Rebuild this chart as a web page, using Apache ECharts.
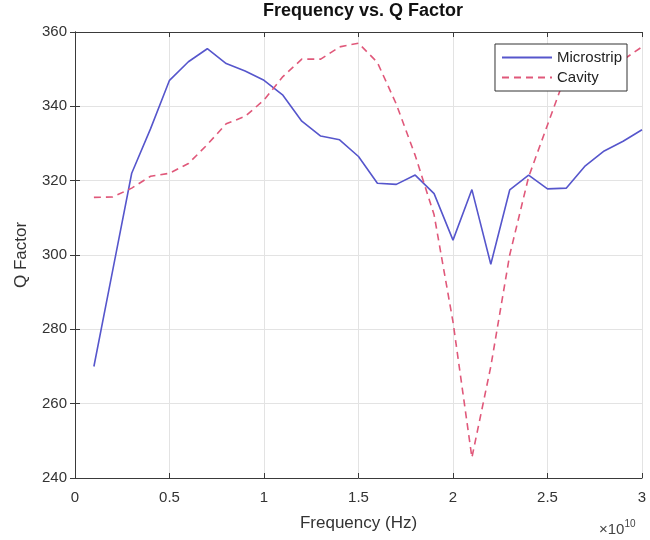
<!DOCTYPE html>
<html>
<head>
<meta charset="utf-8">
<script src="https://cdn.jsdelivr.net/npm/echarts@6/dist/echarts.min.js"></script>
<style>
  html, body { margin: 0; padding: 0; background: #fff; }
  #chart { width: 650px; height: 540px; }
</style>
</head>
<body>
<div id="chart"></div>
<script>
// frequency points (Hz)
const freqs = [1e9, 2e9, 3e9, 4e9, 5e9, 6e9, 7e9, 8e9, 9e9, 10e9,
  11e9, 12e9, 13e9, 14e9, 15e9, 16e9, 17e9, 18e9, 19e9, 20e9,
  21e9, 22e9, 23e9, 24e9, 25e9, 26e9, 27e9, 28e9, 29e9, 30e9];
const microstrip = [270, 296, 322, 334, 347, 352, 355.5, 351.5, 349.5, 347,
  343, 336, 332, 331, 326.5, 319.3, 319, 321.5, 316.5, 304,
  317.6, 297.5, 317.5, 321.5, 317.8, 318, 324, 328, 330.6, 333.7];
const cavity = [315.5, 315.6, 318, 321.2, 322, 324.6, 329.7, 335.3, 337.3, 341.7,
  348, 352.7, 352.7, 356, 357, 351.8, 340.6, 326.8, 310.8, 282,
  245.5, 270, 300, 321, 335, 349, 350, 351, 352.5, 356];
const seriesNames = ['Microstrip', 'Cavity'];

const font = '"Liberation Sans", Arial, Helvetica, sans-serif';
const chart = echarts.init(document.getElementById('chart'));

const pairs = (ys) => freqs.map((f, i) => [f, ys[i]]);

const boxAxisLine = { show: true, lineStyle: { color: '#3a3a3a', width: 1 } };
const innerTick = { show: true, inside: true, length: 5, lineStyle: { color: '#3a3a3a' } };

let option = {
  animation: false,
  backgroundColor: '#fff',
  title: [
    {
      text: 'Frequency vs. Q Factor',
      left: 358, top: -3, textAlign: 'center',
      textStyle: { fontFamily: font, fontSize: 18, fontWeight: 'bold', color: '#111' }
    },
    {
      text: '{a|×10}{b|10}',
      left: 594, top: 514,
      textStyle: {
        rich: {
          a: { fontFamily: font, fontSize: 15, fontWeight: 'normal', color: '#444', verticalAlign: 'bottom' },
          b: { fontFamily: font, fontSize: 10, fontWeight: 'normal', color: '#444', verticalAlign: 'top', padding: [0, 0, 8, 0] }
        }
      }
    }
  ],
  legend: {
    data: seriesNames,
    orient: 'vertical',
    right: 23, top: 44,
    backgroundColor: '#fff',
    borderColor: '#333', borderWidth: 1, borderRadius: 0,
    padding: [6, 5, 6, 6],
    itemGap: 5,
    itemWidth: 50, itemHeight: 17,
    itemStyle: { opacity: 0 },
    textStyle: { fontFamily: font, fontSize: 15, color: '#222' }
  },
  grid: { left: 75, right: 8, top: 32, bottom: 62 },
  xAxis: [
    {
      type: 'value', min: 0, max: 3e10, interval: 5e9,
      name: 'Frequency (Hz)', nameLocation: 'middle', nameGap: 37,
      nameTextStyle: { fontFamily: font, fontSize: 17, color: '#333' },
      axisLine: boxAxisLine, axisTick: innerTick,
      axisLabel: {
        margin: 12, fontFamily: font, fontSize: 15, color: '#333',
        formatter: (v) => String(+(v / 1e10).toFixed(1))
      },
      splitLine: { show: true, lineStyle: { color: '#e3e3e3' } }
    },
    {
      type: 'value', min: 0, max: 3e10, interval: 5e9, position: 'top',
      axisLine: boxAxisLine, axisTick: innerTick,
      axisLabel: { show: false }, splitLine: { show: false }
    }
  ],
  yAxis: [
    {
      type: 'value', min: 240, max: 360, interval: 20,
      name: 'Q Factor', nameLocation: 'middle', nameGap: 45,
      nameTextStyle: { fontFamily: font, fontSize: 17, color: '#333' },
      axisLine: boxAxisLine, axisTick: innerTick,
      axisLabel: { margin: 8, fontFamily: font, fontSize: 15, color: '#333' },
      splitLine: { show: true, lineStyle: { color: '#e3e3e3' } }
    },
    {
      type: 'value', min: 240, max: 360, interval: 20, position: 'right',
      axisLine: boxAxisLine, axisTick: innerTick,
      axisLabel: { show: false }, splitLine: { show: false }
    }
  ],
  series: [
    {
      name: seriesNames[0], type: 'line', symbol: 'none',
      data: pairs(microstrip),
      lineStyle: { color: '#5656cc', width: 1.6 },
      itemStyle: { color: '#5656cc' }
    },
    {
      name: seriesNames[1], type: 'line', symbol: 'none',
      data: pairs(cavity),
      lineStyle: { color: '#e0587a', width: 1.6, type: [7, 5] },
      itemStyle: { color: '#e0587a' }
    }
  ]
};
option && chart.setOption(option);
</script>
</body>
</html>
